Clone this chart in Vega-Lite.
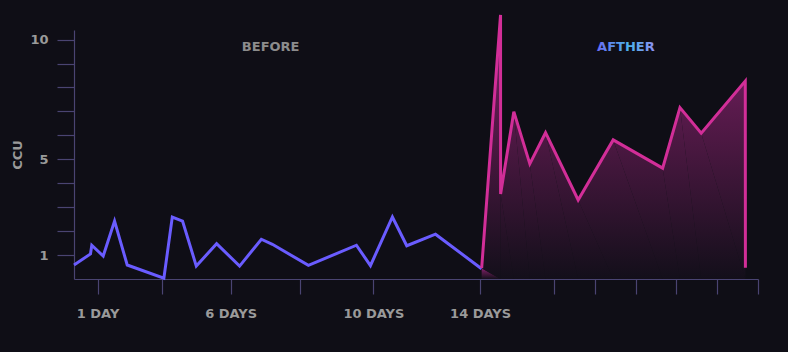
{
  "$schema": "https://vega.github.io/schema/vega-lite/v6.json",
  "width": 684,
  "height": 249,
  "autosize": {"type": "none"},
  "padding": {"left": 74, "top": 30, "right": 30, "bottom": 73},
  "background": "#0f0e16",
  "config": {
    "view": {"stroke": null},
    "axis": {
      "domainColor": "#4a4472",
      "domainWidth": 1.2,
      "tickColor": "#4a4472",
      "tickWidth": 1.2,
      "grid": false,
      "labelColor": "#9a9a9a",
      "labelFont": "DejaVu Sans",
      "labelFontWeight": "bold",
      "labelFontSize": 13,
      "titleColor": "#9a9a9a",
      "titleFont": "DejaVu Sans",
      "titleFontWeight": "bold",
      "titleFontSize": 13
    }
  },
  "datasets": {
    "before": [
      {"i": 0, "t": 0, "ccu": 0.585},
      {"i": 1, "t": 2.41, "ccu": 1.045},
      {"i": 2, "t": 2.6, "ccu": 1.41},
      {"i": 3, "t": 4.27, "ccu": 0.96},
      {"i": 4, "t": 5.93, "ccu": 2.42},
      {"i": 5, "t": 7.78, "ccu": 0.585},
      {"i": 6, "t": 13.14, "ccu": 0.03},
      {"i": 7, "t": 14.37, "ccu": 2.59},
      {"i": 8, "t": 15.87, "ccu": 2.42},
      {"i": 9, "t": 17.88, "ccu": 0.54},
      {"i": 10, "t": 20.85, "ccu": 1.475},
      {"i": 11, "t": 24.21, "ccu": 0.54},
      {"i": 12, "t": 27.39, "ccu": 1.66},
      {"i": 13, "t": 29.0, "ccu": 1.45},
      {"i": 14, "t": 34.27, "ccu": 0.57},
      {"i": 15, "t": 41.29, "ccu": 1.41},
      {"i": 16, "t": 43.34, "ccu": 0.56},
      {"i": 17, "t": 46.55, "ccu": 2.59},
      {"i": 18, "t": 48.65, "ccu": 1.39},
      {"i": 19, "t": 52.85, "ccu": 1.87},
      {"i": 20, "t": 59.58, "ccu": 0.43}
    ],
    "after": [
      {"i": 0, "t": 59.6, "ccu": 0.45},
      {"i": 1, "t": 62.36, "ccu": 11.03},
      {"i": 2, "t": 62.37, "ccu": 3.55},
      {"i": 3, "t": 64.3, "ccu": 6.99},
      {"i": 4, "t": 66.64, "ccu": 4.81},
      {"i": 5, "t": 68.94, "ccu": 6.11},
      {"i": 6, "t": 73.71, "ccu": 3.3},
      {"i": 7, "t": 78.83, "ccu": 5.81},
      {"i": 8, "t": 86.06, "ccu": 4.63},
      {"i": 9, "t": 88.59, "ccu": 7.16},
      {"i": 10, "t": 91.7, "ccu": 6.09},
      {"i": 11, "t": 98.14, "ccu": 8.27},
      {"i": 12, "t": 98.16, "ccu": 0.47}
    ],
    "labels": [
      {"label": "BEFORE", "t": 28.75, "ccu": 9.69, "phase": "before"},
      {"label": "AFTHER", "t": 80.69, "ccu": 9.69, "phase": "after"}
    ]
  },
  "encoding": {
    "x": {
      "field": "t",
      "type": "quantitative",
      "scale": {"domain": [0, 100], "nice": false, "zero": false},
      "axis": {
        "title": null,
        "values": [3.44, 12.8, 22.9, 33.04, 43.77, 59.37, 70.15, 76.11, 82.11, 88.05, 94.04, 100],
        "labelExpr": "datum.value == 3.44 ? '1 DAY' : datum.value == 22.9 ? '6 DAYS' : datum.value == 43.77 ? '10 DAYS' : datum.value == 59.37 ? '14 DAYS' : ''",
        "tickSize": 15,
        "labelPadding": 13,
        "labelFlush": false,
        "labelOverlap": false,
        "labelBound": false
      }
    },
    "y": {
      "field": "ccu",
      "type": "quantitative",
      "scale": {"domain": [0, 10.4], "nice": false, "zero": false},
      "axis": {
        "title": "CCU",
        "values": [1, 2, 3, 4, 5, 6, 7, 8, 9, 10],
        "labelExpr": "datum.value == 1 || datum.value == 5 || datum.value == 10 ? datum.label : ''",
        "tickSize": 17,
        "labelPadding": 9,
        "titlePadding": 5,
        "labelOverlap": false
      }
    }
  },
  "layer": [
    {
      "data": {"name": "after"},
      "mark": {
        "type": "area",
        "color": {
          "gradient": "linear",
          "x1": 0, "y1": 0, "x2": 0, "y2": 1,
          "stops": [
            {"offset": 0, "color": "#8a2272"},
            {"offset": 0.35, "color": "#5a1a4c"},
            {"offset": 1, "color": "#130f1a"}
          ]
        }
      },
      "encoding": {"order": {"field": "i", "type": "quantitative"}}
    },
    {
      "data": {"name": "before"},
      "mark": {"type": "line", "color": "#6a5cff", "strokeWidth": 3, "strokeJoin": "miter"},
      "encoding": {"order": {"field": "i", "type": "quantitative"}}
    },
    {
      "data": {"name": "after"},
      "mark": {"type": "line", "color": "#d22e98", "strokeWidth": 3, "strokeJoin": "miter"},
      "encoding": {"order": {"field": "i", "type": "quantitative"}}
    },
    {
      "data": {"name": "labels"},
      "transform": [{"filter": "datum.phase == 'before'"}],
      "mark": {"type": "text", "font": "DejaVu Sans", "fontWeight": "bold", "fontSize": 13, "color": "#8c8c8c"},
      "encoding": {"text": {"field": "label"}}
    },
    {
      "data": {"name": "labels"},
      "transform": [{"filter": "datum.phase == 'after'"}],
      "mark": {
        "type": "text", "font": "DejaVu Sans", "fontWeight": "bold", "fontSize": 13,
        "color": {
          "gradient": "linear",
          "x1": 0, "y1": 0, "x2": 1, "y2": 0,
          "stops": [
            {"offset": 0, "color": "#6a6cf2"},
            {"offset": 0.55, "color": "#4cb2ea"},
            {"offset": 1, "color": "#8c8ff2"}
          ]
        }
      },
      "encoding": {"text": {"field": "label"}}
    }
  ]
}
